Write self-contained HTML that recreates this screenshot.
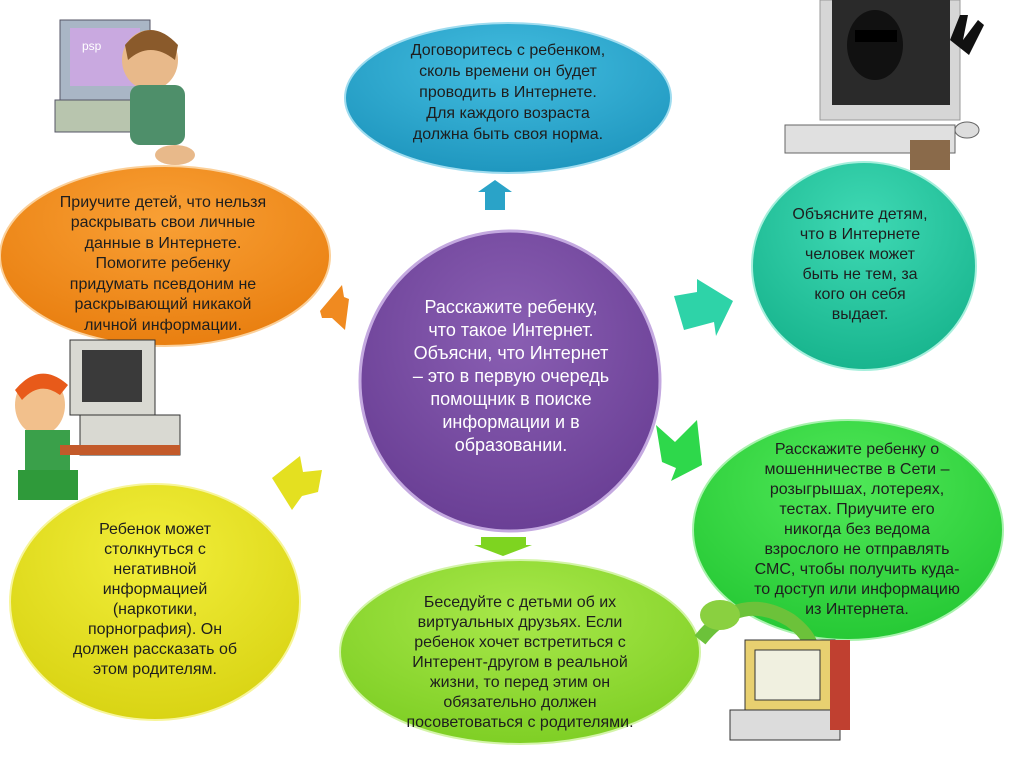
<!DOCTYPE html>
<html><head><meta charset="utf-8"><style>
html,body{margin:0;padding:0;background:#fff;}
svg{display:block;}
text{font-family:"Liberation Sans",sans-serif;}
</style></head><body>
<svg width="1017" height="768" viewBox="0 0 1017 768" xmlns="http://www.w3.org/2000/svg">
<defs>
<radialGradient id="gp" cx="50%" cy="35%" r="65%"><stop offset="0" stop-color="#8a5fb3"/><stop offset="1" stop-color="#6a3f95"/></radialGradient>
<radialGradient id="gb" cx="50%" cy="30%" r="70%"><stop offset="0" stop-color="#43bde0"/><stop offset="1" stop-color="#1f97bf"/></radialGradient>
<radialGradient id="gt" cx="50%" cy="30%" r="70%"><stop offset="0" stop-color="#3fd9b4"/><stop offset="1" stop-color="#18b58e"/></radialGradient>
<radialGradient id="gg" cx="50%" cy="30%" r="70%"><stop offset="0" stop-color="#50e858"/><stop offset="1" stop-color="#26c935"/></radialGradient>
<radialGradient id="gl" cx="50%" cy="30%" r="70%"><stop offset="0" stop-color="#a8e84a"/><stop offset="1" stop-color="#7fcf25"/></radialGradient>
<radialGradient id="gy" cx="50%" cy="30%" r="70%"><stop offset="0" stop-color="#f2ee3a"/><stop offset="1" stop-color="#d9d414"/></radialGradient>
<radialGradient id="go" cx="50%" cy="30%" r="70%"><stop offset="0" stop-color="#f9a035"/><stop offset="1" stop-color="#e97f10"/></radialGradient>
</defs>

<ellipse cx="508" cy="98" rx="163" ry="75" fill="url(#gb)" stroke="#9fdcef" stroke-width="2"/>
<ellipse cx="864" cy="266" rx="112" ry="104" fill="url(#gt)" stroke="#a6efdc" stroke-width="2"/>
<ellipse cx="848" cy="530" rx="155" ry="110" fill="url(#gg)" stroke="#a8f2ad" stroke-width="2"/>
<ellipse cx="520" cy="652" rx="180" ry="92" fill="url(#gl)" stroke="#d3f4a8" stroke-width="2"/>
<ellipse cx="155" cy="602" rx="145" ry="118" fill="url(#gy)" stroke="#f7f59a" stroke-width="2"/>
<ellipse cx="165" cy="256" rx="165" ry="90" fill="url(#go)" stroke="#fbd09a" stroke-width="2"/>
<circle cx="510" cy="381" r="150" fill="url(#gp)" stroke="#c4a9e0" stroke-width="3"/>

<polygon points="495,180 512,192 505,192 505,210 485,210 485,192 478,192" fill="#2aa3c8"/>
<polygon points="674,296 697,292 697,279 733,301 716,336 714,322 684,330" fill="#2ed3a8"/>
<polygon points="656,425 675,442 697,420 702,465 671,481 676,468 662,462" fill="#2ed84b"/>
<polygon points="481,537 526,537 526,545 532,545 503,556 474,545 481,545" fill="#7ed420"/>
<polygon points="272,478 300,456 303,472 322,470 318,492 302,496 292,510" fill="#e4e020"/>
<polygon points="342,285 344,297 349,299 345,330 332,318 322,318 320,311" fill="#f08a20"/>

<g>
<rect x="60" y="20" width="90" height="80" fill="#a9b6c6" stroke="#556" />
<rect x="70" y="28" width="70" height="58" fill="#c9a9e0"/>
<text x="82" y="50" font-size="12" fill="#fff">psp</text>
<rect x="55" y="100" width="110" height="32" fill="#b8c5ae" stroke="#556"/>
<ellipse cx="150" cy="60" rx="28" ry="30" fill="#e8b98a"/>
<path d="M125,45 Q150,15 178,45 L175,60 Q150,40 128,60Z" fill="#8a5a2b"/>
<rect x="130" y="85" width="55" height="60" rx="10" fill="#4e8f6a"/>
<ellipse cx="175" cy="155" rx="20" ry="10" fill="#e8b98a"/>
</g>
<g>
<rect x="70" y="340" width="85" height="75" fill="#d9d9d2" stroke="#333"/>
<rect x="82" y="350" width="60" height="52" fill="#3a3a3a"/>
<rect x="80" y="415" width="100" height="40" fill="#d9d9d2" stroke="#333"/>
<ellipse cx="40" cy="405" rx="25" ry="30" fill="#f2c08c"/>
<path d="M15,390 Q40,360 68,385 L60,395 Q40,380 22,400Z" fill="#e85a1a"/>
<rect x="25" y="430" width="45" height="40" fill="#3aa04a"/>
<rect x="18" y="470" width="60" height="30" fill="#2f9a3a"/>
<rect x="60" y="445" width="120" height="10" fill="#c35a2a"/>
</g>
<g>
<rect x="820" y="0" width="140" height="120" fill="#d6d6d6" stroke="#999"/>
<rect x="832" y="0" width="118" height="105" fill="#2a2a2a"/>
<ellipse cx="875" cy="45" rx="28" ry="35" fill="#111"/>
<rect x="855" y="30" width="42" height="12" fill="#000"/>
<path d="M950,40 l10,-25 l8,0 l-5,25 l15,-20 l6,5 l-15,30Z" fill="#111"/>
<rect x="785" y="125" width="170" height="28" fill="#e0e0e0" stroke="#666"/>
<rect x="910" y="140" width="40" height="30" fill="#8a6a4a"/>
<ellipse cx="967" cy="130" rx="12" ry="8" fill="#ddd" stroke="#666"/>
</g>
<g>
<path d="M700,640 Q740,590 790,620 Q830,650 800,680" stroke="#6cc23a" stroke-width="14" fill="none"/>
<ellipse cx="720" cy="615" rx="20" ry="15" fill="#8ad040"/>
<rect x="745" y="640" width="90" height="70" fill="#e8d070" stroke="#333"/>
<rect x="755" y="650" width="65" height="50" fill="#f0f0e0" stroke="#333"/>
<rect x="730" y="710" width="110" height="30" fill="#dcdcdc" stroke="#333"/>
<rect x="830" y="640" width="20" height="90" fill="#c04030"/>
</g>

<g font-size="16" fill="#1e1e1e" text-anchor="middle">
<text x="508" y="55">Договоритесь с ребенком,</text>
<text x="508" y="76">сколь времени он будет</text>
<text x="508" y="97">проводить в Интернете.</text>
<text x="508" y="118">Для каждого возраста</text>
<text x="508" y="139">должна быть своя норма.</text>

<text x="163" y="207">Приучите детей, что нельзя</text>
<text x="163" y="227">раскрывать свои личные</text>
<text x="163" y="248">данные в Интернете.</text>
<text x="163" y="268">Помогите ребенку</text>
<text x="163" y="289">придумать псевдоним не</text>
<text x="163" y="309">раскрывающий никакой</text>
<text x="163" y="330">личной информации.</text>

<text x="860" y="219">Объясните детям,</text>
<text x="860" y="239">что в Интернете</text>
<text x="860" y="259">человек может</text>
<text x="860" y="279">быть не тем, за</text>
<text x="860" y="299">кого он себя</text>
<text x="860" y="319">выдает.</text>

<text x="857" y="454">Расскажите ребенку о</text>
<text x="857" y="474">мошенничестве в Сети –</text>
<text x="857" y="494">розыгрышах, лотереях,</text>
<text x="857" y="514">тестах. Приучите его</text>
<text x="857" y="534">никогда без ведома</text>
<text x="857" y="554">взрослого не отправлять</text>
<text x="857" y="574">СМС, чтобы получить куда-</text>
<text x="857" y="594">то доступ или информацию</text>
<text x="857" y="614">из Интернета.</text>

<text x="520" y="607">Беседуйте с детьми об их</text>
<text x="520" y="627">виртуальных друзьях. Если</text>
<text x="520" y="647">ребенок хочет встретиться с</text>
<text x="520" y="667">Интерент-другом в реальной</text>
<text x="520" y="687">жизни, то перед этим он</text>
<text x="520" y="707">обязательно должен</text>
<text x="520" y="727">посоветоваться с родителями.</text>

<text x="155" y="534">Ребенок может</text>
<text x="155" y="554">столкнуться с</text>
<text x="155" y="574">негативной</text>
<text x="155" y="594">информацией</text>
<text x="155" y="614">(наркотики,</text>
<text x="155" y="634">порнография). Он</text>
<text x="155" y="654">должен рассказать об</text>
<text x="155" y="674">этом родителям.</text>
</g>
<g font-size="18" fill="#fff" text-anchor="middle">
<text x="511" y="313">Расскажите ребенку,</text>
<text x="511" y="336">что такое Интернет.</text>
<text x="511" y="359">Объясни, что Интернет</text>
<text x="511" y="382">– это в первую очередь</text>
<text x="511" y="405">помощник в поиске</text>
<text x="511" y="428">информации и в</text>
<text x="511" y="451">образовании.</text>
</g>
</svg>
</body></html>
